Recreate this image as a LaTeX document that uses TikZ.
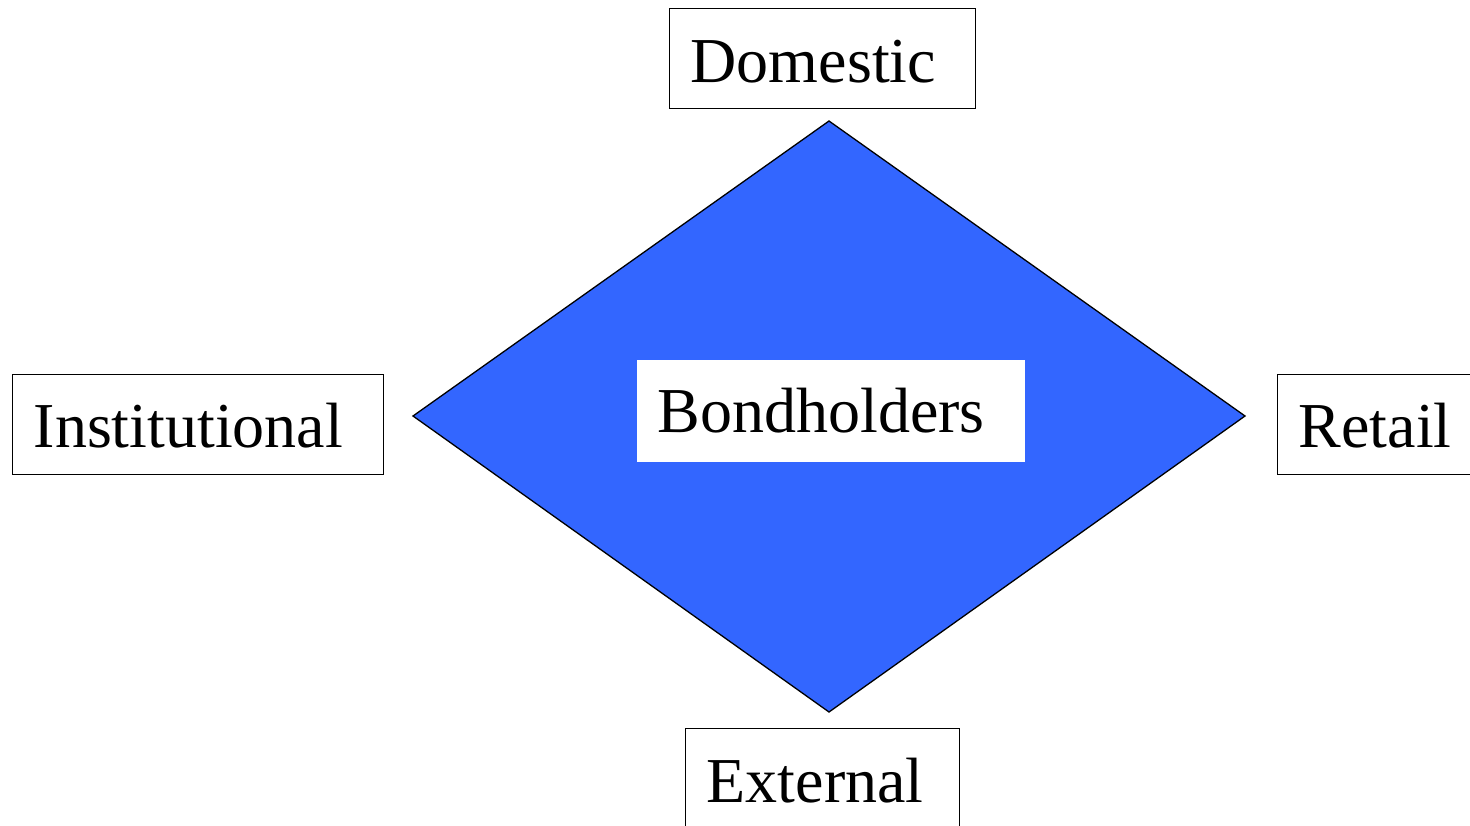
\documentclass[tikz,border=0pt]{standalone}
\usepackage{fontspec}
\setmainfont{Liberation Serif}
\definecolor{diablue}{HTML}{3366FF}
\tikzset{
  lbl/.style={draw=black, line width=1.4pt, fill=white, anchor=north west,
    font=\fontsize{64}{70}\selectfont, align=left, inner xsep=21pt, inner ysep=0pt,
    text height=74pt, text depth=26pt},
}
\begin{document}
\begin{tikzpicture}[x=1pt,y=-1pt]
\useasboundingbox (0,0) rectangle (1470,825);
\clip (0,0) rectangle (1470,825);
\fill[white] (0,0) rectangle (1470,825);
% diamond
\coordinate (dt) at (829,121);
\coordinate (dl) at (413,416);
\coordinate (dr) at (1245,416);
\coordinate (db) at (829,712);
\draw[fill=diablue, draw=black, line width=1.3pt, line join=miter] (dt) -- (dr) -- (db) -- (dl) -- cycle;
% centre label
\node[lbl, draw=none, text width=346pt, text depth=29pt, text height=73pt] (bond) at (636,359) {Bondholders};
% outer labels
\node[lbl, text width=264pt] (dom) at (669,8) {Domestic};
\node[lbl, text width=329pt, text height=73pt, text depth=27pt] (inst) at (12,374) {Institutional};
\node[lbl, text width=200pt, text height=73pt, text depth=27pt] (ret) at (1277,374) {Retail};
\node[lbl, text width=232pt] (ext) at (685,728) {External};
\end{tikzpicture}
\end{document}
